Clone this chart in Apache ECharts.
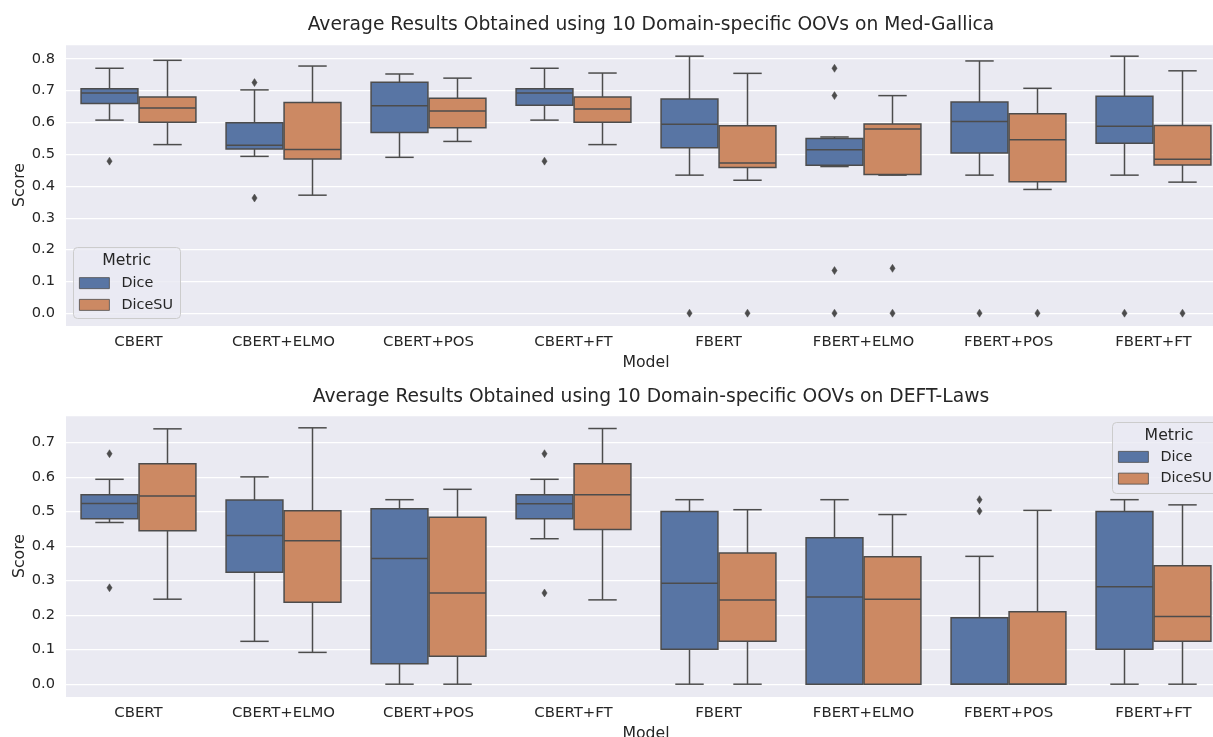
<!DOCTYPE html>
<html>
<head>
<meta charset="utf-8">
<script src="https://cdn.jsdelivr.net/npm/echarts@6/dist/echarts.min.js"></script>
<style>html,body{margin:0;padding:0;background:#fff}#c{width:1213px;height:737px}</style>
</head>
<body>
<div id="c"></div>
<script>
const models = ['CBERT','CBERT+ELMO','CBERT+POS','CBERT+FT','FBERT','FBERT+ELMO','FBERT+POS','FBERT+FT'];
const metrics = ['Dice','DiceSU'];
const titles = ['Average Results Obtained using 10 Domain-specific OOVs on Med-Gallica',
                'Average Results Obtained using 10 Domain-specific OOVs on DEFT-Laws'];

// [lower whisker, Q1, median, Q3, upper whisker]
const medGallicaDice = [
  [0.607,0.659,0.692,0.706,0.770],
  [0.493,0.516,0.528,0.599,0.702],
  [0.490,0.568,0.652,0.726,0.752],
  [0.607,0.654,0.692,0.706,0.770],
  [0.434,0.520,0.594,0.673,0.808],
  [0.461,0.465,0.514,0.549,0.554],
  [0.434,0.504,0.603,0.664,0.793],
  [0.434,0.534,0.588,0.682,0.808]
];
const medGallicaDiceSU = [
  [0.530,0.600,0.645,0.680,0.795],
  [0.371,0.485,0.515,0.662,0.777],
  [0.540,0.583,0.636,0.676,0.739],
  [0.530,0.600,0.642,0.680,0.755],
  [0.418,0.458,0.472,0.589,0.754],
  [0.434,0.436,0.579,0.595,0.684],
  [0.389,0.413,0.545,0.627,0.707],
  [0.412,0.466,0.484,0.590,0.762]
];
// [model index, value]
const medGallicaDiceOut = [[0,0.478],[1,0.725],[1,0.362],[3,0.478],[4,0],[5,0.770],[5,0.684],[5,0.134],[5,0],[6,0],[7,0]];
const medGallicaDiceSUOut = [[4,0],[5,0.141],[5,0],[6,0],[7,0]];

const deftDice = [
  [0.468,0.479,0.523,0.548,0.593],
  [0.124,0.324,0.430,0.533,0.600],
  [0.000,0.059,0.364,0.508,0.534],
  [0.421,0.479,0.522,0.548,0.593],
  [0.000,0.101,0.292,0.500,0.534],
  [0.000,0.000,0.252,0.424,0.534],
  [0.000,0.000,0.000,0.192,0.370],
  [0.000,0.101,0.282,0.500,0.534]
];
const deftDiceSU = [
  [0.246,0.444,0.545,0.638,0.739],
  [0.092,0.237,0.415,0.502,0.742],
  [0.000,0.081,0.264,0.483,0.564],
  [0.244,0.448,0.548,0.638,0.740],
  [0.000,0.124,0.244,0.380,0.505],
  [0.000,0.000,0.246,0.369,0.491],
  [0.000,0.000,0.000,0.210,0.503],
  [0.000,0.124,0.196,0.343,0.519]
];
const deftDiceOut = [[0,0.667],[0,0.279],[3,0.667],[3,0.264],[6,0.534],[6,0.501]];
const deftDiceSUOut = [];

const yRanges = [[-0.0403, 0.8463], [-0.0371, 0.7791]];

const FONT = 'DejaVu Sans';
const TXT = '#262626';
const EDGE = '#4c4c4c';
const COLORS = ['#5875a4', '#cc8963'];
const BG = '#EAEAF2';

function boxSeries(name, stats, side, gi, color) {
  return {
    type: 'custom', name: name, xAxisIndex: gi, yAxisIndex: gi,
    itemStyle: {color: color, borderColor: EDGE, borderWidth: 1},
    data: stats.map((s, i) => [i].concat(s)),
    encode: {x: 0, y: [1, 2, 3, 4, 5]},
    renderItem: function (params, api) {
      const i = api.value(0);
      const band = api.size([1, 0])[0];
      const cx = api.coord([i, 0])[0] + side * band * 0.2;
      const w = band * 0.4 * 0.98;
      const y = k => api.coord([i, api.value(k)])[1];
      const lo = y(1), q1 = y(2), md = y(3), q3 = y(4), hi = y(5);
      const ls = {stroke: EDGE, lineWidth: 1.5};
      return {type: 'group', children: [
        {type: 'line', shape: {x1: cx, y1: q1, x2: cx, y2: lo}, style: ls},
        {type: 'line', shape: {x1: cx, y1: q3, x2: cx, y2: hi}, style: ls},
        {type: 'line', shape: {x1: cx - w / 4, y1: lo, x2: cx + w / 4, y2: lo}, style: ls},
        {type: 'line', shape: {x1: cx - w / 4, y1: hi, x2: cx + w / 4, y2: hi}, style: ls},
        {type: 'rect', shape: {x: cx - w / 2, y: q3, width: w, height: q1 - q3}, style: {fill: color, stroke: EDGE, lineWidth: 1.5}},
        {type: 'line', shape: {x1: cx - w / 2, y1: md, x2: cx + w / 2, y2: md}, style: ls}
      ]};
    }
  };
}

function outlierSeries(name, pts, side, gi) {
  return {
    type: 'custom', name: name, xAxisIndex: gi, yAxisIndex: gi,
    data: pts, encode: {x: 0, y: 1}, z: 3,
    renderItem: function (params, api) {
      const band = api.size([1, 0])[0];
      const p = api.coord([api.value(0), api.value(1)]);
      const cx = p[0] + side * band * 0.2, cy = p[1];
      return {type: 'polygon', shape: {points: [[cx, cy - 4], [cx + 2.6, cy], [cx, cy + 4], [cx - 2.6, cy]]},
              style: {fill: EDGE, stroke: EDGE, lineWidth: 0.5}};
    }
  };
}

const gridTops = [44, 415];
const grids = gridTops.map(t => ({left: 66, width: 1160, top: t, height: 282, show: true,
  backgroundColor: BG, borderWidth: 0, containLabel: false, outerBoundsMode: 'none'}));

const xAxes = [0, 1].map(g => ({
  type: 'category', gridIndex: g, data: models,
  axisLine: {show: false}, axisTick: {show: false}, splitLine: {show: false},
  axisLabel: {color: TXT, fontSize: 14.9, fontFamily: FONT, margin: 9, interval: 0},
  name: 'Model', nameLocation: 'middle', nameGap: 28.5, nameMoveOverlap: false,
  nameTextStyle: {color: TXT, fontSize: 15.7, fontFamily: FONT}
}));

const yAxes = [0, 1].map(g => ({
  type: 'value', gridIndex: g, min: yRanges[g][0], max: yRanges[g][1],
  minInterval: 0.1, maxInterval: 0.1, splitNumber: 9,
  axisLine: {show: false}, axisTick: {show: false},
  splitLine: {show: true, lineStyle: {color: '#ffffff', width: 1.25}},
  axisLabel: {color: TXT, fontSize: 14.6, fontFamily: FONT, margin: 11,
    formatter: v => (Math.abs(v * 10 - Math.round(v * 10)) < 1e-6 ? (Math.round(v * 10) / 10).toFixed(1) : '')},
  name: 'Score', nameLocation: 'middle', nameGap: 38, nameRotate: 90, nameMoveOverlap: false,
  nameTextStyle: {color: TXT, fontSize: 15.7, fontFamily: FONT}
}));

const series = [
  boxSeries('Dice', medGallicaDice, -1, 0, COLORS[0]),
  boxSeries('DiceSU', medGallicaDiceSU, 1, 0, COLORS[1]),
  boxSeries('Dice', deftDice, -1, 1, COLORS[0]),
  boxSeries('DiceSU', deftDiceSU, 1, 1, COLORS[1]),
  outlierSeries('Dice outliers', medGallicaDiceOut, -1, 0),
  outlierSeries('DiceSU outliers', medGallicaDiceSUOut, 1, 0),
  outlierSeries('Dice outliers', deftDiceOut, -1, 1),
  outlierSeries('DiceSU outliers', deftDiceSUOut, 1, 1)
];

function legend(left, top) {
  return {data: metrics, orient: 'vertical', left: left, top: top, padding: 0, itemGap: 0,
    itemWidth: 30, itemHeight: 11, icon: 'rect', z: 200, selectedMode: false,
    itemStyle: {borderColor: EDGE, borderWidth: 0.8},
    textStyle: {color: TXT, fontSize: 14.4, fontFamily: FONT, lineHeight: 21.75, padding: [0, 0, 0, 7]}};
}

function legendFrame(x, y, w, h, tx, ty) {
  return [
    {type: 'rect', left: x, top: y, z: 150, shape: {width: w, height: h, r: 4},
      style: {fill: 'rgba(234,234,242,0.8)', stroke: '#cccccc', lineWidth: 1}},
    {type: 'text', x: tx, y: ty, z: 160, style: {text: 'Metric', fill: TXT, font: '15.7px "DejaVu Sans"', align: 'center', verticalAlign: 'middle'}}
  ];
}

const option = {
  animation: false,
  backgroundColor: '#ffffff',
  title: titles.map((t, i) => ({text: t, left: 646, top: [11, 382.5][i], textAlign: 'center',
    textStyle: {color: TXT, fontSize: 18.7, fontWeight: 'normal', fontFamily: FONT}})),
  grid: grids,
  xAxis: xAxes,
  yAxis: yAxes,
  legend: [legend(79, 272.25), legend(1118, 446)],
  graphic: legendFrame(73, 247, 107, 71, 126.7, 261).concat(legendFrame(1112, 422, 125, 71, 1169, 436)),
  series: series
};

const chart = echarts.init(document.getElementById('c'), null, {renderer: 'canvas'});
chart.setOption(option);
</script>
</body>
</html>
